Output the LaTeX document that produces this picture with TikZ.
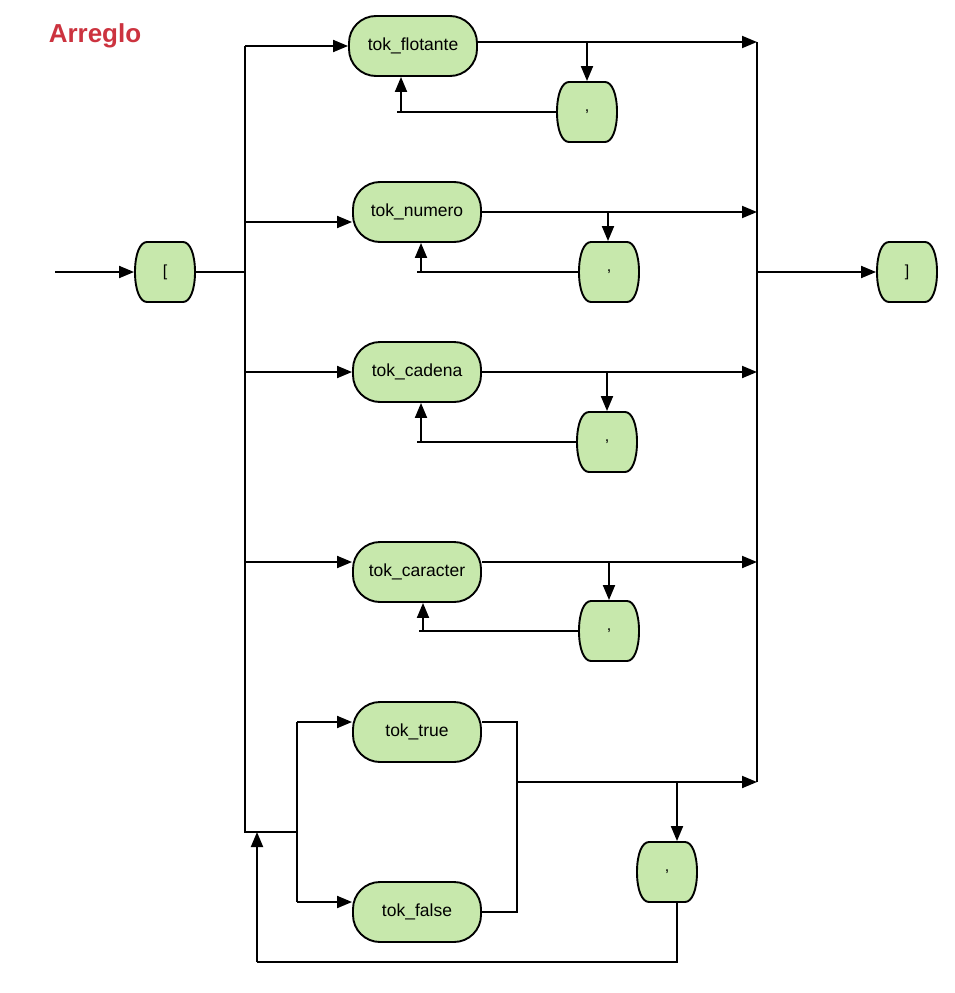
\documentclass[tikz,border=0pt]{standalone}
\usepackage{fontspec}
\setmainfont{Liberation Sans}
\usetikzlibrary{arrows.meta,calc}
\definecolor{boxgreen}{RGB}{199,232,172}
\definecolor{titlered}{RGB}{204,51,63}
\newcommand\drawbarrel[1]{%
  \path[barfill] ($(#1)+(-18,-30)$) -- ($(#1)+(18,-30)$)
    .. controls ($(#1)+(25,-30)$) and ($(#1)+(30,-18)$) .. ($(#1)+(30,0)$)
    .. controls ($(#1)+(30,18)$) and ($(#1)+(25,30)$) .. ($(#1)+(18,30)$)
    -- ($(#1)+(-18,30)$)
    .. controls ($(#1)+(-25,30)$) and ($(#1)+(-30,18)$) .. ($(#1)+(-30,0)$)
    .. controls ($(#1)+(-30,-18)$) and ($(#1)+(-25,-30)$) .. cycle;}
\begin{document}
\begin{tikzpicture}[x=1pt,y=-1pt,line width=1.9pt,
  tok/.style={rectangle,rounded corners=27pt,draw,fill=boxgreen,minimum width=128pt,
    minimum height=60pt,inner sep=0pt,font=\fontsize{17.5}{20}\selectfont},
  bar/.style={rectangle,minimum width=60pt,minimum height=60pt,inner sep=0pt,
    font=\fontsize{16}{19}\selectfont},
  barfill/.style={draw,fill=boxgreen},
  arr/.style={-{Triangle[length=15pt,width=12pt]}}]
\useasboundingbox (0,0) rectangle (954,993);

\node[font=\bfseries\fontsize{26}{30}\selectfont,text=titlered] (title) at (95,36) {Arreglo};

% token nodes
\node[tok] (flot) at (413,46) {tok\_flotante};
\node[tok] (num) at (417,212) {tok\_numero};
\node[tok] (cad) at (417,372) {tok\_cadena};
\node[tok] (car) at (417,572) {tok\_caracter};
\node[tok] (tru) at (417,732) {tok\_true};
\node[tok] (fal) at (417,912) {tok\_false};

% barrel nodes
\foreach \n/\x/\y in {lbp/165/272,rbp/907/272,c1p/587/112,c2p/609/272,c3p/607/442,c4p/609/631,c5p/667/872}
  {\coordinate (\n) at (\x,\y); \drawbarrel{\n}}
\node[bar] (lb) at (lbp) {[};
\node[bar] (rb) at (rbp) {]};
\node[bar] (c1) at (c1p) {,};
\node[bar] (c2) at (c2p) {,};
\node[bar] (c3) at (c3p) {,};
\node[bar] (c4) at (c4p) {,};
\node[bar] (c5) at (c5p) {,};

% coordinates
\coordinate (start) at (55,272);
\coordinate (Lmid) at (245,272);
\coordinate (L1) at (245,46);
\coordinate (L2) at (245,222);
\coordinate (L3) at (245,372);
\coordinate (L4) at (245,562);
\coordinate (Lb) at (245,832);
\coordinate (B1) at (297,832);
\coordinate (Bt) at (297,722);
\coordinate (Bf) at (297,902);
\coordinate (R1) at (757,42);
\coordinate (R2) at (757,212);
\coordinate (R3) at (757,372);
\coordinate (R4) at (757,562);
\coordinate (R5) at (757,782);
\coordinate (Rmid) at (757,272);
\coordinate (T1) at (517,722);
\coordinate (T2) at (517,912);
\coordinate (T3) at (517,782);
\coordinate (D1) at (587,42);
\coordinate (D2) at (608,212);
\coordinate (D3) at (607,372);
\coordinate (D4) at (609,562);
\coordinate (D5) at (677,782);
\coordinate (K1) at (397,112);
\coordinate (K2) at (417,272);
\coordinate (K3) at (417,442);
\coordinate (K4) at (419,631);
\coordinate (U1) at (401,112);
\coordinate (U2) at (421,272);
\coordinate (U3) at (421,442);
\coordinate (U4) at (423,631);
\coordinate (Q1) at (677,962);
\coordinate (Q2) at (257,962);
\coordinate (Q3) at (257,832);

% entry
\draw[arr] (start) -- (lb);
\draw (lb) -- (Lmid);
\draw (L1) -- (Lb) -- (B1);
\draw[arr] (L1) -- (L1 -| flot.west);
\draw[arr] (L2) -- (L2 -| num.west);
\draw[arr] (L3) -- (L3 -| cad.west);
\draw[arr] (L4) -- (L4 -| car.west);
\draw (Bt) -- (Bf);
\draw[arr] (Bt) -- (Bt -| tru.west);
\draw[arr] (Bf) -- (Bf -| fal.west);

% exits
\draw[arr] (R1 -| flot.east) -- (R1);
\draw[arr] (R2 -| num.east) -- (R2);
\draw[arr] (R3 -| cad.east) -- (R3);
\draw[arr] (R4 -| car.east) -- (R4);
\draw (R1) -- (R5);
\draw[arr] (Rmid) -- (rb);
\draw (T1 -| tru.east) -- (T1) -- (T2) -- (T2 -| fal.east);
\draw[arr] (T3) -- (R5);

% loops
\draw[arr] (D1) -- (D1 |- c1.north);
\draw (c1) -- (K1);
\draw[arr] (U1) -- (U1 |- flot.south);
\draw[arr] (D2) -- (D2 |- c2.north);
\draw (c2) -- (K2);
\draw[arr] (U2) -- (U2 |- num.south);
\draw[arr] (D3) -- (D3 |- c3.north);
\draw (c3) -- (K3);
\draw[arr] (U3) -- (U3 |- cad.south);
\draw[arr] (D4) -- (D4 |- c4.north);
\draw (c4) -- (K4);
\draw[arr] (U4) -- (U4 |- car.south);
\draw[arr] (D5) -- (D5 |- c5.north);
\draw (c5.south -| D5) -- (Q1) -- (Q2);
\draw[arr] (Q2) -- (Q3);
\end{tikzpicture}
\end{document}
